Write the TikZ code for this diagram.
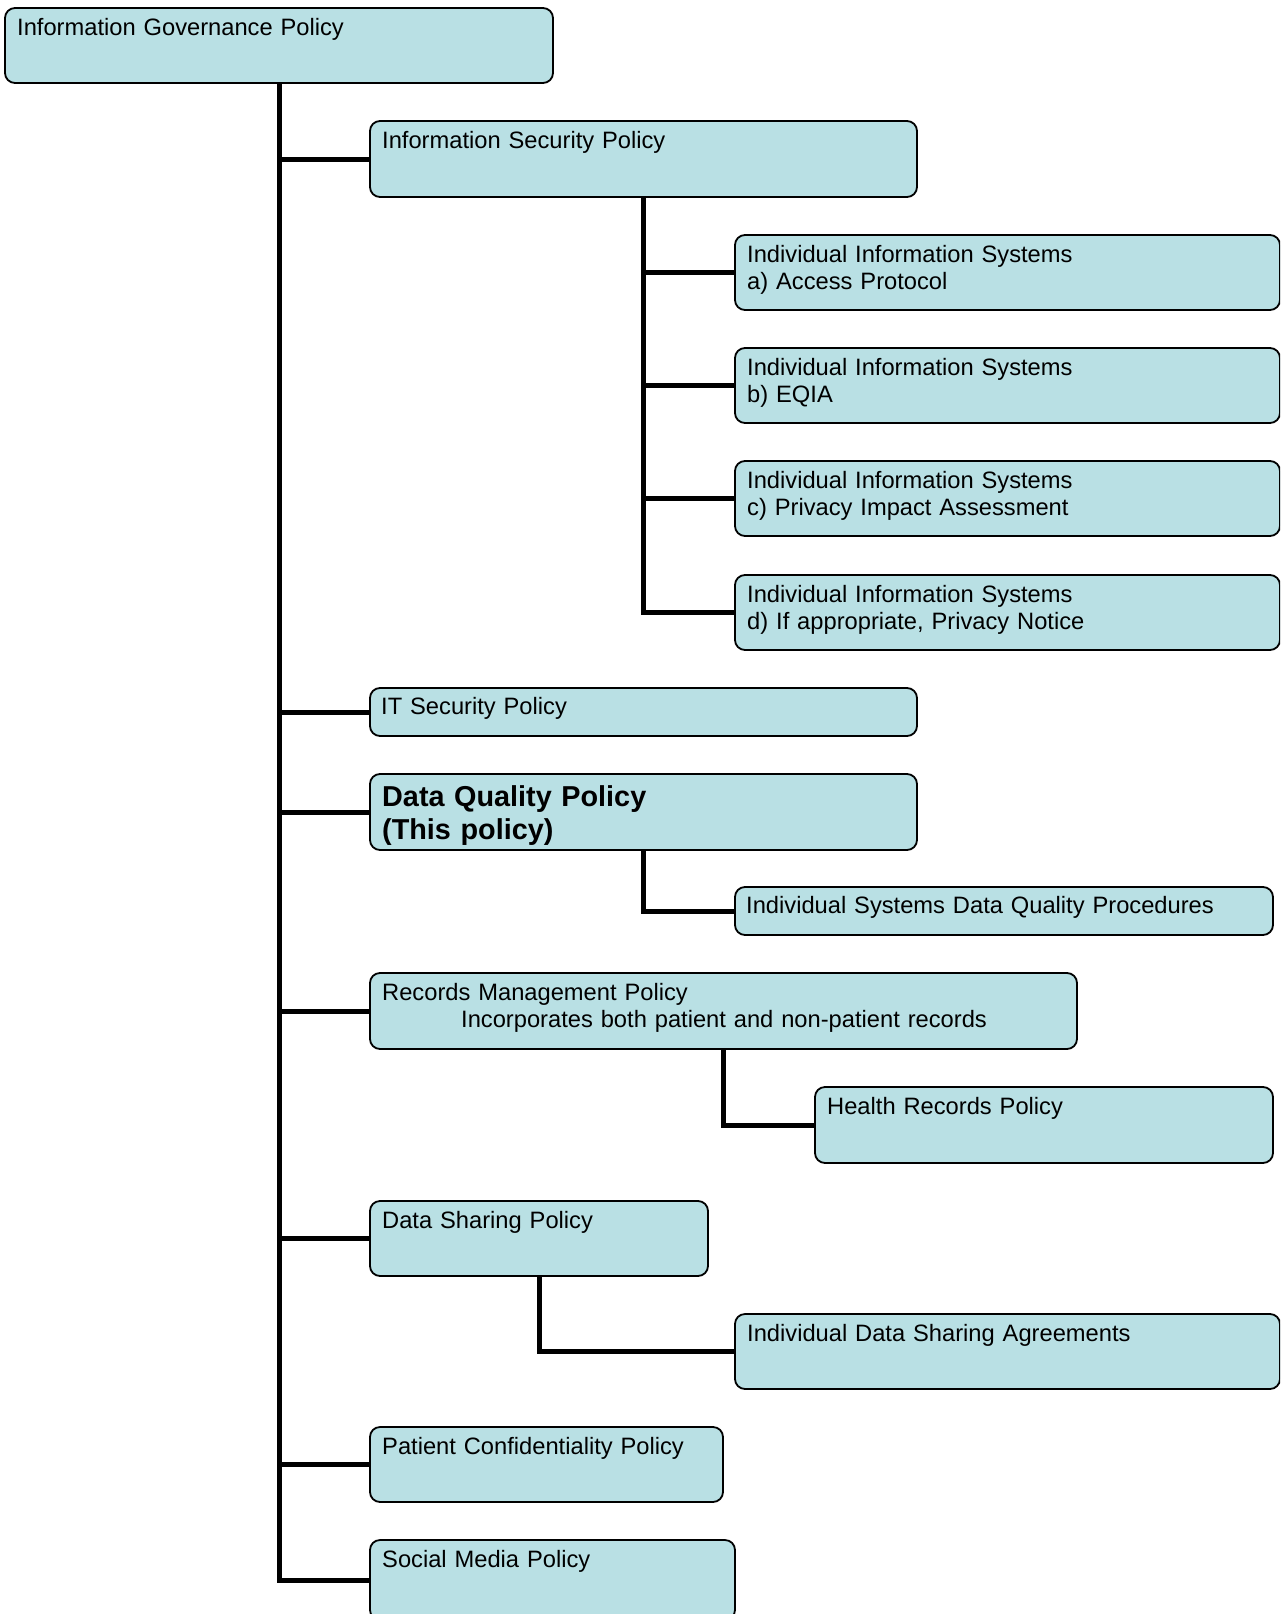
\documentclass[tikz,border=0pt]{standalone}
\usepackage{fontspec}
\setmainfont{Liberation Sans}
\definecolor{boxfill}{HTML}{B9E0E4}
\begin{document}
\begin{tikzpicture}[x=1pt,y=-1pt,
  box/.style={draw=black, line width=1.8pt, fill=boxfill, rounded corners=10pt, inner sep=0pt, outer sep=0pt, anchor=north west},
  txt/.style={anchor=base west, inner sep=0pt, text width=800pt, align=left, font=\fontsize{23.7}{27}\selectfont},
  btxt/.style={anchor=base west, inner sep=0pt, text width=800pt, align=left, font=\fontsize{28.8}{33}\selectfont\bfseries},
  conn/.style={line width=5pt}]
\useasboundingbox (0,0) rectangle (1280,1614);
\clip (0,0) rectangle (1280,1614);
% boxes
\node[box, minimum width=548pt, minimum height=75pt] (igp) at (5,8) {};
\node[box, minimum width=547pt, minimum height=76pt] (isp) at (370,121) {};
\node[box, minimum width=545pt, minimum height=75pt] (iisa) at (735,235) {};
\node[box, minimum width=545pt, minimum height=75pt] (iisb) at (735,348) {};
\node[box, minimum width=545pt, minimum height=75pt] (iisc) at (735,461) {};
\node[box, minimum width=545pt, minimum height=75pt] (iisd) at (735,575) {};
\node[box, minimum width=547pt, minimum height=48pt] (itsp) at (370,688) {};
\node[box, minimum width=547pt, minimum height=76pt] (dqp) at (370,774) {};
\node[box, minimum width=538pt, minimum height=48pt] (isdq) at (735,887) {};
\node[box, minimum width=707pt, minimum height=76pt] (rmp) at (370,973) {};
\node[box, minimum width=458pt, minimum height=76pt] (hrp) at (815,1087) {};
\node[box, minimum width=338pt, minimum height=75pt] (dsp) at (370,1201) {};
\node[box, minimum width=545pt, minimum height=75pt] (idsa) at (735,1314) {};
\node[box, minimum width=353pt, minimum height=75pt] (pcp) at (370,1427) {};
\node[box, minimum width=365pt, minimum height=80pt] (smp) at (370,1540) {};
% texts
\node[txt] (igpT) at ([xshift=12pt,yshift=-27pt]igp.north west) {Information Governance Policy};
\node[txt] (ispT) at ([xshift=12pt,yshift=-27pt]isp.north west) {Information Security Policy};
\node[txt] (iisaT) at ([xshift=12pt,yshift=-27pt]iisa.north west) {Individual Information Systems\\a) Access Protocol};
\node[txt] (iisbT) at ([xshift=12pt,yshift=-27pt]iisb.north west) {Individual Information Systems\\b) EQIA};
\node[txt] (iiscT) at ([xshift=12pt,yshift=-27pt]iisc.north west) {Individual Information Systems\\c) Privacy Impact Assessment};
\node[txt] (iisdT) at ([xshift=12pt,yshift=-27pt]iisd.north west) {Individual Information Systems\\d) If appropriate, Privacy Notice};
\node[txt] (itspT) at ([xshift=11pt,yshift=-26pt]itsp.north west) {IT Security Policy};
\node[btxt] (dqpT) at ([xshift=12pt,yshift=-32pt]dqp.north west) {Data Quality Policy\\(This policy)};
\node[txt] (isdqT) at ([xshift=11pt,yshift=-26pt]isdq.north west) {Individual Systems Data Quality Procedures};
\node[txt] (rmpT) at ([xshift=12pt,yshift=-27pt]rmp.north west) {Records Management Policy\\\hspace*{79pt}Incorporates both patient and non-patient records};
\node[txt] (hrpT) at ([xshift=12pt,yshift=-27pt]hrp.north west) {Health Records Policy};
\node[txt] (dspT) at ([xshift=12pt,yshift=-27pt]dsp.north west) {Data Sharing Policy};
\node[txt] (idsaT) at ([xshift=12pt,yshift=-27pt]idsa.north west) {Individual Data Sharing Agreements};
\node[txt] (pcpT) at ([xshift=12pt,yshift=-27pt]pcp.north west) {Patient Confidentiality Policy};
\node[txt] (smpT) at ([xshift=12pt,yshift=-27pt]smp.north west) {Social Media Policy};
% connectors
\draw[conn] (igp.south) |- (isp.west);
\draw[conn] (igp.south) |- (itsp.west);
\draw[conn] (igp.south) |- (dqp.west);
\draw[conn] (igp.south) |- (rmp.west);
\draw[conn] (igp.south) |- (dsp.west);
\draw[conn] (igp.south) |- (pcp.west);
\draw[conn] (igp.south) |- (smp.west);
\draw[conn] (isp.south) |- (iisa.west);
\draw[conn] (isp.south) |- (iisb.west);
\draw[conn] (isp.south) |- (iisc.west);
\draw[conn] (isp.south) |- (iisd.west);
\draw[conn] (dqp.south) |- (isdq.west);
\draw[conn] (rmp.south) |- (hrp.west);
\draw[conn] (dsp.south) |- (idsa.west);
\end{tikzpicture}
\end{document}
